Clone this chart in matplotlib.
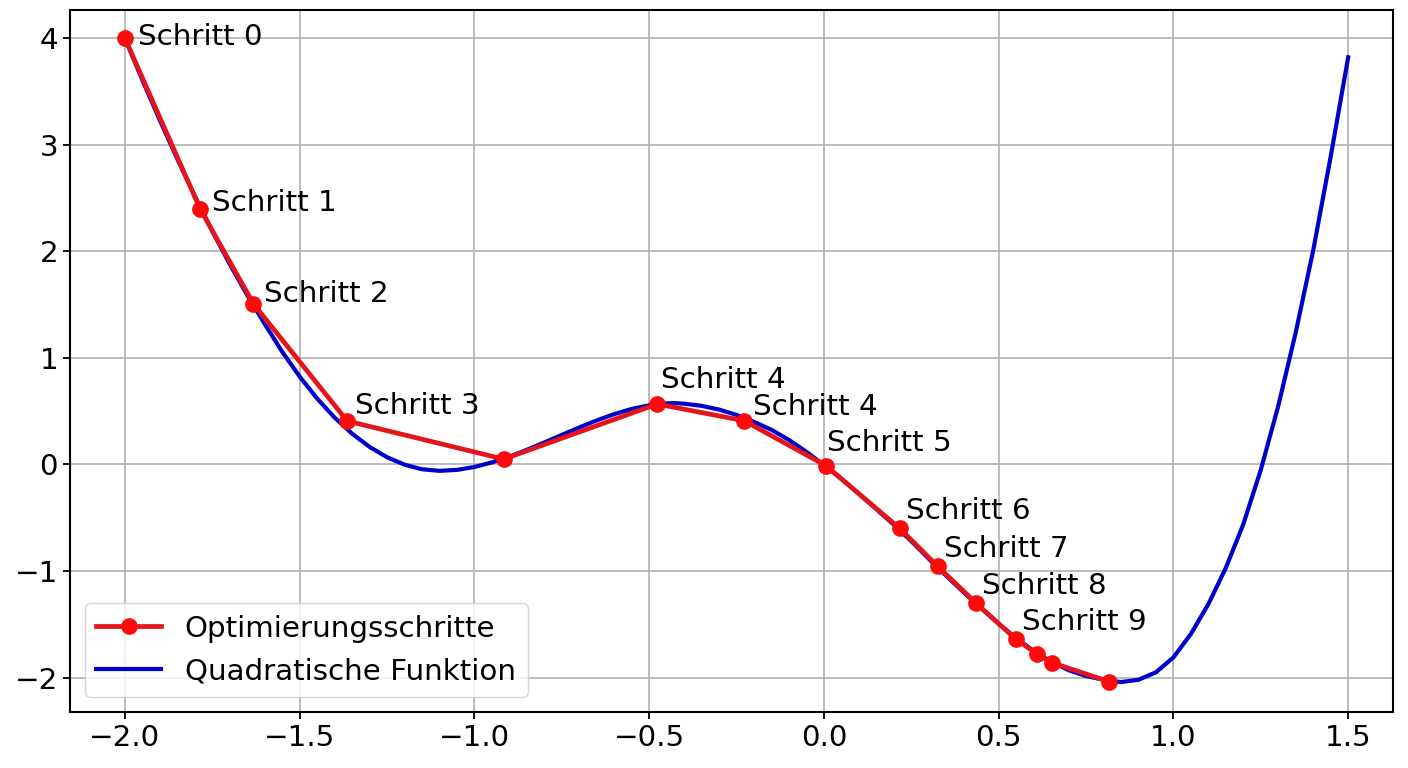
import matplotlib
matplotlib.use("Agg")
import matplotlib.pyplot as plt

# Blue curve readings (x, y)
curve_x = [-2.00, -1.95, -1.90, -1.85, -1.80, -1.75, -1.70, -1.65, -1.60, -1.55,
           -1.50, -1.45, -1.40, -1.35, -1.30, -1.25, -1.20, -1.15, -1.10, -1.05,
           -1.00, -0.95, -0.90, -0.85, -0.80, -0.75, -0.70, -0.65, -0.60, -0.55,
           -0.50, -0.45, -0.43, -0.40, -0.35, -0.30, -0.25, -0.20, -0.15, -0.10,
           -0.05, 0.00, 0.05, 0.10, 0.15, 0.20, 0.25, 0.30, 0.35, 0.40,
           0.45, 0.50, 0.55, 0.60, 0.65, 0.70, 0.75, 0.80, 0.85, 0.90,
           0.95, 1.00, 1.05, 1.10, 1.15, 1.20, 1.25, 1.30, 1.35, 1.40,
           1.45, 1.50]
curve_y = [4.00, 3.607, 3.23, 2.867, 2.52, 2.19, 1.88, 1.59, 1.319, 1.058,
           0.825, 0.619, 0.440, 0.289, 0.165, 0.068, -0.002, -0.045, -0.060, -0.051,
           -0.024, 0.019, 0.073, 0.137, 0.206, 0.277, 0.347, 0.413, 0.472, 0.521,
           0.555, 0.573, 0.576, 0.570, 0.550, 0.515, 0.465, 0.400, 0.325, 0.230,
           0.118, -0.005, -0.135, -0.275, -0.420, -0.565, -0.720, -0.885, -1.045, -1.200,
           -1.350, -1.495, -1.630, -1.750, -1.850, -1.930, -1.985, -2.020, -2.042, -2.020,
           -1.950, -1.810, -1.590, -1.310, -0.970, -0.560, -0.050, 0.550, 1.240, 2.010,
           2.890, 3.820]

# Optimisation steps
step_x = [-2.0, -1.785, -1.632, -1.364, -0.916, -0.477, -0.228, 0.005, 0.217, 0.325,
          0.434, 0.550, 0.610, 0.653, 0.815]
step_y = [4.0, 2.40, 1.506, 0.408, 0.05, 0.567, 0.41, -0.01, -0.60, -0.954,
          -1.297, -1.641, -1.78, -1.86, -2.037]

# Labels: index of the step each label belongs to, and its text
label_idx = [0, 1, 2, 3, 5, 6, 7, 8, 9, 10, 11]
label_txt = ["Schritt 0", "Schritt 1", "Schritt 2", "Schritt 3", "Schritt 4", "Schritt 4",
             "Schritt 5", "Schritt 6", "Schritt 7", "Schritt 8", "Schritt 9"]
label_dx = [13, 12, 11, 8, 4, 9, 1, 6, 6, 6, 6]
label_dy = [1, 6, 10, 15, 24, 14, 23, 17, 17, 17, 17]

x_ticks = [-2.0, -1.5, -1.0, -0.5, 0.0, 0.5, 1.0, 1.5]
y_ticks = [-2, -1, 0, 1, 2, 3, 4]

DPI = 100
fig = plt.figure(figsize=(14.08, 7.68), dpi=DPI)
ax = fig.add_axes([0.0497, 0.073, 0.9396, 0.914])

FS = 21.2
px2pt = 72.0 / DPI

blue, = ax.plot(curve_x, curve_y, color="#0000cd", lw=3.0, zorder=2,
                label="Quadratische Funktion")
red, = ax.plot(step_x, step_y, color="#e5141a", lw=3.4, marker="o", markersize=11,
               markerfacecolor="#ff0a0a", markeredgecolor="#ff0a0a", zorder=3,
               label="Optimierungsschritte")

for i, t, dx, dy in zip(label_idx, label_txt, label_dx, label_dy):
    ax.annotate(t, (step_x[i], step_y[i]), xytext=(dx * px2pt, dy * px2pt),
                textcoords="offset points", ha="left", va="center",
                fontsize=FS, color="black", zorder=4)

ax.set_xlim(-2.157, 1.628)
ax.set_ylim(-2.322, 4.264)
ax.set_xticks(x_ticks)
ax.set_xticklabels([f"{v:.1f}".replace("-", "\u2212") for v in x_ticks])
ax.set_yticks(y_ticks)
ax.set_yticklabels([str(v).replace("-", "\u2212") for v in y_ticks])
ax.tick_params(labelsize=FS, length=5, width=1.3)
ax.grid(True, color="#b0b0b0", lw=1.2)
ax.set_axisbelow(True)
for s in ax.spines.values():
    s.set_linewidth(1.5)

leg = ax.legend(handles=[red, blue], loc="lower left", fontsize=FS,
                framealpha=0.8, edgecolor="#cccccc", borderaxespad=0.5,
                handlelength=2.2)

fig.savefig("out.png", dpi=DPI)
